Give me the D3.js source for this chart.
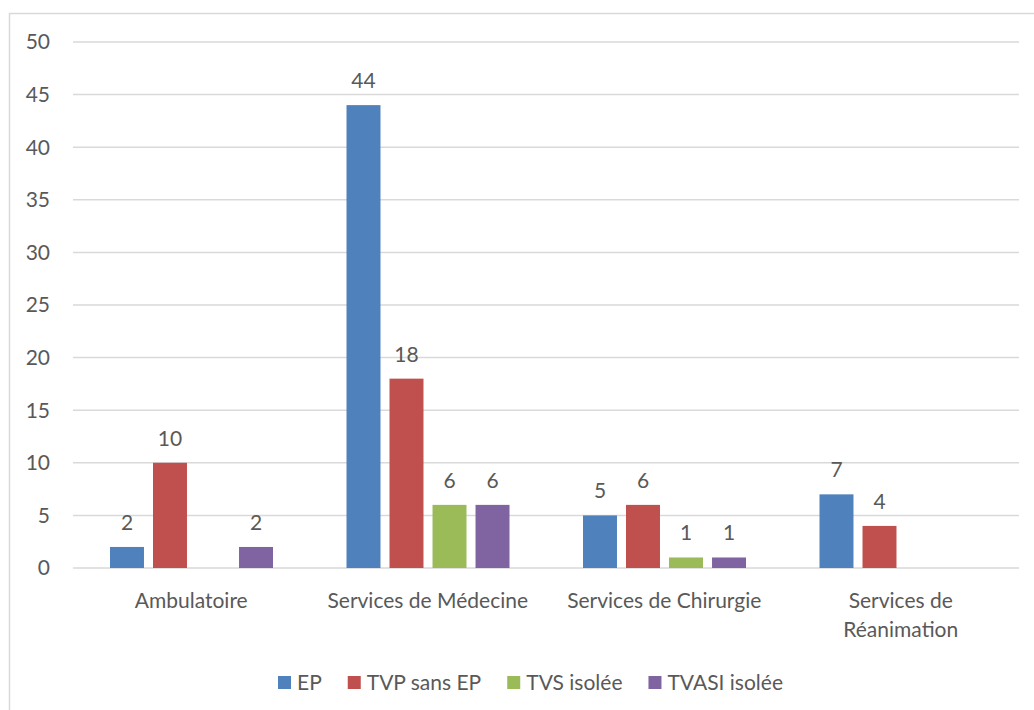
<!DOCTYPE html>
<html lang="fr">
<head>
  <meta charset="utf-8">
  <title>Répartition par service</title>
  <script src="https://d3js.org/d3.v7.min.js"></script>
  <style>
    html, body { margin: 0; padding: 0; background: #fff; }
    svg { display: block; }
    text { font-family: Lato, "Open Sans", sans-serif; fill: #595959; }
  </style>
</head>
<body>
  <svg width="1034" height="710"></svg>
  <script>
    const categories = ["Ambulatoire", "Services de Médecine", "Services de Chirurgie", "Services de Réanimation"];
    const seriesNames = ["EP", "TVP sans EP", "TVS isolée", "TVASI isolée"];
    const ep = [2, 44, 5, 7];
    const tvp = [10, 18, 6, 4];
    const tvs = [null, 6, 1, null];
    const tvasi = [2, 6, 1, null];
    const colors = ["#4F81BD", "#C0504D", "#9BBB59", "#8064A2"];
    const yTicks = [0, 5, 10, 15, 20, 25, 30, 35, 40, 45, 50];

    const allSeries = [ep, tvp, tvs, tvasi];
    const svg = d3.select("svg");
    const fs = 21;

    // cadre du graphique
    svg.append("rect")
      .attr("x", 9.5).attr("y", 13.5)
      .attr("width", 1030).attr("height", 710)
      .attr("fill", "none")
      .attr("stroke", "#d9d9d9")
      .attr("stroke-width", 1.5);

    const plotLeft = 73, plotRight = 1019, plotTop = 42, plotBottom = 568;

    const y = d3.scaleLinear().domain([0, 50]).range([plotBottom, plotTop]);
    const x0 = d3.scaleBand().domain(categories).range([plotLeft, plotRight]);
    const x1 = d3.scaleBand().domain(d3.range(4)).range([37, 200]).paddingInner(0.21);

    // grille
    svg.append("g").selectAll("line")
      .data(yTicks)
      .join("line")
      .attr("x1", plotLeft).attr("x2", plotRight)
      .attr("y1", d => y(d)).attr("y2", d => y(d))
      .attr("stroke", "#d9d9d9")
      .attr("stroke-width", 1.5);

    svg.append("g").selectAll("text")
      .data(yTicks)
      .join("text")
      .attr("x", 50)
      .attr("y", d => y(d))
      .attr("dy", "0.35em")
      .attr("text-anchor", "end")
      .attr("font-size", fs)
      .text(d => d);

    // barres
    const cells = [];
    allSeries.forEach((vals, s) => {
      vals.forEach((v, c) => {
        if (v != null) cells.push({ s: s, c: c, v: v });
      });
    });

    svg.append("g").selectAll("rect")
      .data(cells)
      .join("rect")
      .attr("x", d => x0(categories[d.c]) + x1(d.s))
      .attr("y", d => y(d.v))
      .attr("width", x1.bandwidth())
      .attr("height", d => y(0) - y(d.v))
      .attr("fill", d => colors[d.s]);

    svg.append("g").selectAll("text")
      .data(cells)
      .join("text")
      .attr("x", d => x0(categories[d.c]) + x1(d.s) + x1.bandwidth() / 2)
      .attr("y", d => y(d.v) - 17)
      .attr("text-anchor", "middle")
      .attr("font-size", fs)
      .text(d => d.v);

    // étiquettes des catégories
    const catLines = [["Ambulatoire"], ["Services de Médecine"], ["Services de Chirurgie"], ["Services de", "Réanimation"]];
    const catG = svg.append("g").selectAll("text")
      .data(categories)
      .join("text")
      .attr("x", d => x0(d) + x0.bandwidth() / 2)
      .attr("y", 608)
      .attr("text-anchor", "middle")
      .attr("font-size", fs);
    catG.each(function(d, i) {
      d3.select(this).selectAll("tspan")
        .data(catLines[i])
        .join("tspan")
        .attr("x", x0(d) + x0.bandwidth() / 2)
        .attr("dy", (t, j) => j === 0 ? 0 : 29)
        .text(t => t);
    });

    // légende
    const legend = svg.append("g");
    let lx = 278;
    seriesNames.forEach((name, i) => {
      legend.append("rect")
        .attr("x", lx).attr("y", 676)
        .attr("width", 13).attr("height", 13)
        .attr("fill", colors[i]);
      const t = legend.append("text")
        .attr("x", lx + 19).attr("y", 690)
        .attr("font-size", fs)
        .text(name);
      lx += 19 + t.node().getComputedTextLength() + 26;
    });
  </script>
</body>
</html>
